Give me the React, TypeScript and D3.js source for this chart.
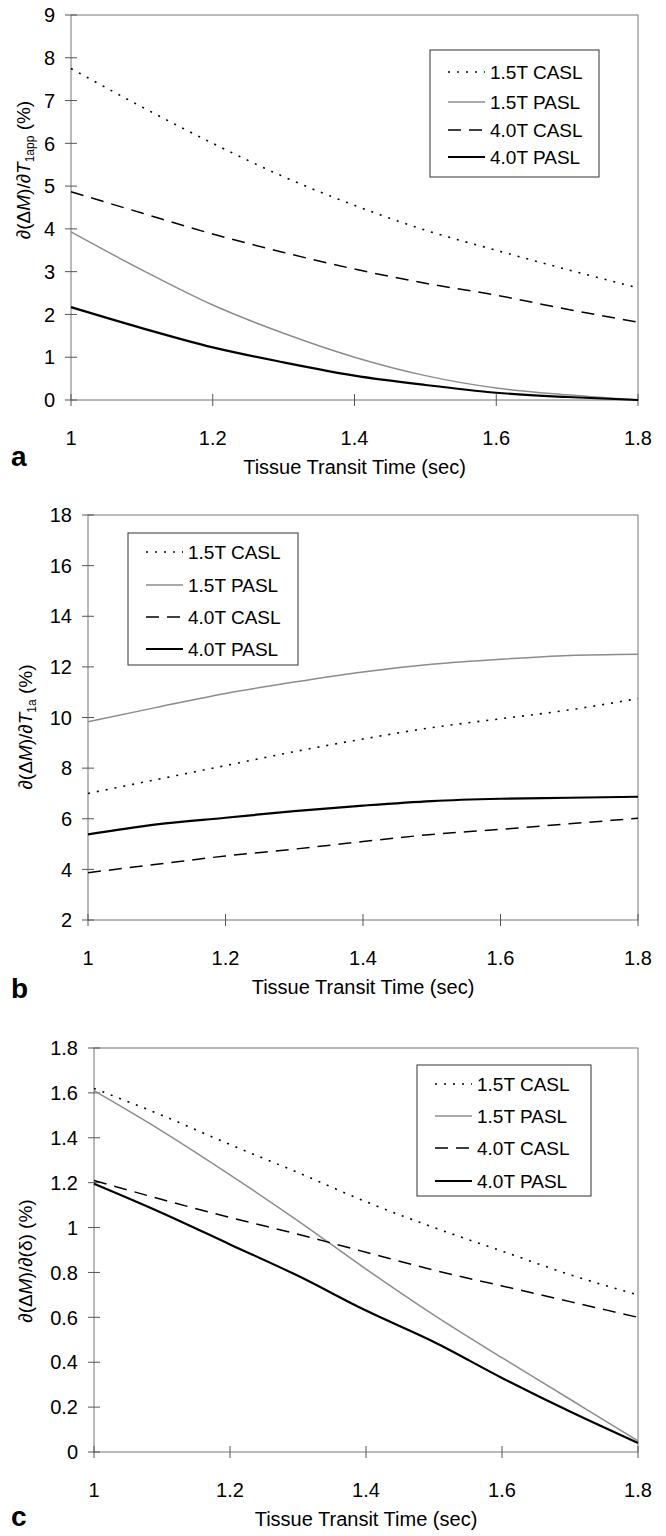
import { useEffect, useRef } from "react";
import * as d3 from "d3";

// transit times (sec)
const transit = [1.0, 1.1, 1.2, 1.3, 1.4, 1.5, 1.6, 1.7, 1.8];
const seriesNames = ["1.5T CASL", "1.5T PASL", "4.0T CASL", "4.0T PASL"];
const xTicks = [1, 1.2, 1.4, 1.6, 1.8];

// panel a: d(dM)/dT1app (%)
const aCasl15 = [7.75, 6.85, 6.0, 5.22, 4.55, 3.97, 3.5, 3.05, 2.62];
const aPasl15 = [3.93, 3.04, 2.22, 1.56, 1.0, 0.57, 0.28, 0.12, 0.0];
const aCasl40 = [4.87, 4.37, 3.88, 3.45, 3.06, 2.73, 2.45, 2.12, 1.82];
const aPasl40 = [2.17, 1.68, 1.23, 0.88, 0.57, 0.35, 0.17, 0.07, 0.0];
const aTicks = [0, 1, 2, 3, 4, 5, 6, 7, 8, 9];

// panel b: d(dM)/dT1a (%)
const bCasl15 = [7.0, 7.55, 8.1, 8.65, 9.15, 9.6, 9.95, 10.3, 10.75];
const bPasl15 = [9.83, 10.4, 10.95, 11.4, 11.8, 12.1, 12.3, 12.45, 12.5];
const bCasl40 = [3.87, 4.2, 4.53, 4.8, 5.1, 5.38, 5.58, 5.8, 6.02];
const bPasl40 = [5.38, 5.78, 6.04, 6.3, 6.52, 6.7, 6.79, 6.83, 6.87];
const bTicks = [2, 4, 6, 8, 10, 12, 14, 16, 18];

// panel c: d(dM)/d(delta) (%)
const cCasl15 = [1.62, 1.5, 1.37, 1.245, 1.115, 1.0, 0.895, 0.79, 0.7];
const cPasl15 = [1.61, 1.43, 1.235, 1.03, 0.815, 0.61, 0.42, 0.235, 0.05];
const cCasl40 = [1.21, 1.125, 1.045, 0.97, 0.89, 0.81, 0.74, 0.67, 0.6];
const cPasl40 = [1.195, 1.065, 0.925, 0.785, 0.63, 0.49, 0.33, 0.18, 0.04];
const cTicks = [0, 0.2, 0.4, 0.6, 0.8, 1, 1.2, 1.4, 1.6, 1.8];

const styles = [
  { stroke: "#000", width: 1.6, dash: "2,7" },
  { stroke: "#8c8c8c", width: 1.5, dash: null },
  { stroke: "#000", width: 1.5, dash: "13,8" },
  { stroke: "#000", width: 2.2, dash: null },
];

const FONT = "'Liberation Sans', Arial, sans-serif";

const panels = [
  {
    letter: "a", series: [aCasl15, aPasl15, aCasl40, aPasl40], ticks: aTicks,
    left: 71, top: 15, bottom: 400, letterY: 466,
    legend: { x: 430, y: 50, w: 169, h: 127, rows: [72, 102, 130, 157] },
    yTitle: { x: 30, y: 170, main: "T", sub: "1app", tail: null },
  },
  {
    letter: "b", series: [bCasl15, bPasl15, bCasl40, bPasl40], ticks: bTicks,
    left: 88, top: 515, bottom: 920, letterY: 998,
    legend: { x: 128, y: 533, w: 170, h: 132, rows: [552, 585, 617, 649] },
    yTitle: { x: 32, y: 727, main: "T", sub: "1a", tail: null },
  },
  {
    letter: "c", series: [cCasl15, cPasl15, cCasl40, cPasl40], ticks: cTicks,
    left: 94, top: 1048, bottom: 1452, letterY: 1526,
    legend: { x: 417, y: 1065, w: 174, h: 131, rows: [1084, 1116, 1148, 1181] },
    yTitle: { x: 32, y: 1261, main: null, sub: null, tail: "(δ)" },
  },
];

export default function App() {
  const svgRef = useRef<SVGSVGElement>(null);

  useEffect(() => {
    const svg = d3.select(svgRef.current);
    svg.selectAll("*").remove();
    const right = 638;

    panels.forEach((p) => {
      const g = svg.append("g");
      const ext = d3.extent(p.ticks) as [number, number];
      const x = d3.scaleLinear().domain([1, 1.8]).range([p.left, right]);
      const y = d3.scaleLinear().domain(ext).range([p.bottom, p.top]);

      // frame
      g.append("rect")
        .attr("x", p.left).attr("y", p.top)
        .attr("width", right - p.left).attr("height", p.bottom - p.top)
        .attr("fill", "none").attr("stroke", "#777").attr("stroke-width", 1);

      // y ticks
      g.selectAll(".yt").data(p.ticks).join("line")
        .attr("x1", p.left - 6).attr("x2", p.left + 6)
        .attr("y1", (d) => y(d)).attr("y2", (d) => y(d))
        .attr("stroke", "#555");
      g.selectAll(".yl").data(p.ticks).join("text")
        .attr("x", p.left - 16).attr("y", (d) => y(d))
        .attr("dy", "0.36em").attr("text-anchor", "end")
        .attr("font-family", FONT).attr("font-size", 20)
        .text((d) => String(+d.toFixed(1)));

      // x ticks
      g.selectAll(".xt").data(xTicks).join("line")
        .attr("x1", (d) => x(d)).attr("x2", (d) => x(d))
        .attr("y1", p.bottom - 6).attr("y2", p.bottom + 6)
        .attr("stroke", "#555");
      g.selectAll(".xl").data(xTicks).join("text")
        .attr("x", (d) => x(d)).attr("y", p.bottom + 45)
        .attr("text-anchor", "middle")
        .attr("font-family", FONT).attr("font-size", 20)
        .text((d) => String(d));

      g.append("text")
        .attr("x", (p.left + right) / 2).attr("y", p.bottom + 74)
        .attr("text-anchor", "middle")
        .attr("font-family", FONT).attr("font-size", 20)
        .text("Tissue Transit Time (sec)");

      // panel letter
      g.append("text")
        .attr("x", 11).attr("y", p.letterY)
        .attr("font-family", FONT).attr("font-size", 28).attr("font-weight", "bold")
        .text(p.letter);

      // y title
      const yt = g.append("text")
        .attr("transform", `translate(${p.yTitle.x},${p.yTitle.y}) rotate(-90)`)
        .attr("text-anchor", "middle")
        .attr("font-family", FONT).attr("font-size", 19);
      yt.append("tspan").text("∂(Δ");
      yt.append("tspan").attr("font-style", "italic").text("M");
      yt.append("tspan").text(")/∂");
      if (p.yTitle.main) {
        yt.append("tspan").attr("font-style", "italic").text(p.yTitle.main);
        yt.append("tspan").attr("font-size", 12).attr("dy", 4).text(p.yTitle.sub);
        yt.append("tspan").attr("dy", -4).text(" (%)");
      } else {
        yt.append("tspan").text(p.yTitle.tail + " (%)");
      }

      // lines
      const line = d3.line<number>()
        .x((_, i) => x(transit[i]))
        .y((d) => y(d))
        .curve(d3.curveMonotoneX);
      p.series.forEach((vals, i) => {
        const s = styles[i];
        g.append("path")
          .attr("d", line(vals))
          .attr("fill", "none")
          .attr("stroke", s.stroke)
          .attr("stroke-width", s.width)
          .attr("stroke-dasharray", s.dash);
      });

      // legend
      const L = p.legend;
      g.append("rect")
        .attr("x", L.x).attr("y", L.y).attr("width", L.w).attr("height", L.h)
        .attr("fill", "#fff").attr("stroke", "#333").attr("stroke-width", 1);
      seriesNames.forEach((name, i) => {
        const s = styles[i];
        const ry = L.rows[i];
        g.append("line")
          .attr("x1", L.x + 18).attr("x2", L.x + 55)
          .attr("y1", ry).attr("y2", ry)
          .attr("stroke", s.stroke).attr("stroke-width", s.width)
          .attr("stroke-dasharray", s.dash);
        g.append("text")
          .attr("x", L.x + 60).attr("y", ry).attr("dy", "0.36em")
          .attr("font-family", FONT).attr("font-size", 19)
          .text(name);
      });
    });
  }, []);

  return (
    <svg
      ref={svgRef}
      width={666}
      height={1536}
      style={{ position: "absolute", left: 0, top: 0, background: "#fff" }}
    />
  );
}
